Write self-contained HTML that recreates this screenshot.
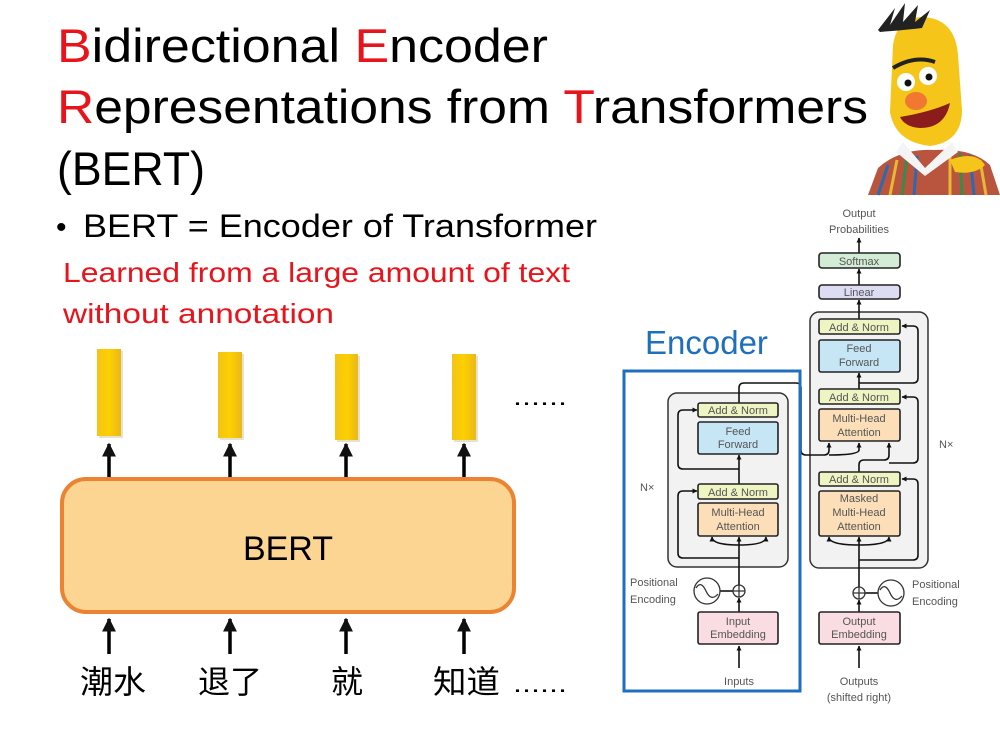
<!DOCTYPE html>
<html><head><meta charset="utf-8"><style>
html,body{margin:0;padding:0;background:#fff;}
svg{display:block;}
</style></head><body>
<svg width="1000" height="736" viewBox="0 0 1000 736" xmlns="http://www.w3.org/2000/svg">
<defs>
<marker id="a" viewBox="0 0 10 10" refX="9" refY="5" markerWidth="4" markerHeight="4" orient="auto"><path d="M0,0L10,5L0,10z" fill="#111"/></marker>
<marker id="b" viewBox="0 0 10 10" refX="9" refY="5" markerWidth="3.2" markerHeight="3.2" orient="auto"><path d="M0,0L10,5L0,10z" fill="#111"/></marker>
<linearGradient id="bar" x1="0" x2="1"><stop offset="0" stop-color="#f3c316"/><stop offset="0.5" stop-color="#fdd000"/><stop offset="1" stop-color="#e9b81a"/></linearGradient>
</defs>
<g font-family="Liberation Sans, sans-serif">
<text x="57" y="62" font-size="47" textLength="491" lengthAdjust="spacingAndGlyphs"><tspan fill="#e8141c">B</tspan>idirectional <tspan fill="#e8141c">E</tspan>ncoder</text>
<text x="57" y="123" font-size="47" textLength="811" lengthAdjust="spacingAndGlyphs"><tspan fill="#e8141c">R</tspan>epresentations from <tspan fill="#e8141c">T</tspan>ransformers</text>
<text x="57" y="185" font-size="47" textLength="148" lengthAdjust="spacingAndGlyphs">(BERT)</text>
<text x="56" y="237" font-size="30">•</text>
<text x="83" y="237" font-size="32" textLength="514" lengthAdjust="spacingAndGlyphs">BERT =  Encoder of Transformer</text>
<text x="63" y="282" font-size="28" fill="#e8141c" textLength="507" lengthAdjust="spacingAndGlyphs">Learned from a large amount of text</text>
<text x="63" y="323" font-size="28" fill="#e8141c" textLength="271" lengthAdjust="spacingAndGlyphs">without annotation</text>
</g>

<g fill="#e6e2d0">
<rect x="99" y="351" width="24" height="87"/><rect x="220" y="354" width="24" height="86"/>
<rect x="337" y="356" width="23" height="86"/><rect x="454" y="356" width="24" height="86"/>
</g>
<rect x="97" y="349" width="24" height="87" fill="url(#bar)"/>
<rect x="218" y="352" width="24" height="86" fill="url(#bar)"/>
<rect x="335" y="354" width="23" height="86" fill="url(#bar)"/>
<rect x="452" y="354" width="24" height="86" fill="url(#bar)"/>
<text x="513" y="405" font-family="Liberation Sans,sans-serif" font-size="24" textLength="54" lengthAdjust="spacingAndGlyphs">......</text>
<g stroke="#000" stroke-width="3.5" marker-end="url(#a)">
<line x1="109" y1="479" x2="109" y2="444"/>
<line x1="230" y1="479" x2="230" y2="444"/>
<line x1="346" y1="479" x2="346" y2="444"/>
<line x1="464" y1="479" x2="464" y2="444"/>
<line x1="109" y1="654" x2="109" y2="619"/>
<line x1="230" y1="654" x2="230" y2="619"/>
<line x1="346" y1="654" x2="346" y2="619"/>
<line x1="464" y1="654" x2="464" y2="619"/>
</g>
<rect x="62" y="479" width="452" height="133" rx="24" fill="#fdd592" stroke="#ec8332" stroke-width="4"/>
<text x="288" y="560" font-family="Liberation Sans,sans-serif" font-size="34" text-anchor="middle">BERT</text>
<g font-family="Liberation Sans,'Noto Sans CJK SC',sans-serif" font-size="32">
<text x="80" y="693" textLength="66" lengthAdjust="spacingAndGlyphs">潮水</text>
<text x="198" y="693" textLength="64" lengthAdjust="spacingAndGlyphs">退了</text>
<text x="331" y="693">就</text>
<text x="433" y="693" textLength="67" lengthAdjust="spacingAndGlyphs">知道</text>
</g>
<text x="513" y="692" font-family="Liberation Sans,sans-serif" font-size="24" textLength="54" lengthAdjust="spacingAndGlyphs">......</text>

<text x="645" y="354" font-family="Liberation Sans,sans-serif" font-size="33" fill="#1f6fbf">Encoder</text>

<g font-family="Liberation Sans,sans-serif" font-size="11" fill="#555">
<rect x="668" y="393" width="120" height="174" rx="9" fill="#f2f2f2" stroke="#333" stroke-width="1.5"/>
<rect x="810" y="312" width="118" height="256" rx="9" fill="#f2f2f2" stroke="#333" stroke-width="1.5"/>

<g stroke="#111" stroke-width="1.6" fill="none">
<line x1="739" y1="668" x2="739" y2="646" marker-end="url(#b)"/>
<line x1="739" y1="612" x2="739" y2="598" marker-end="url(#b)"/>
<line x1="739" y1="585" x2="739" y2="537" marker-end="url(#b)"/>
<path d="M739,545 Q712,545 712,537" marker-end="url(#b)"/>
<path d="M739,545 Q766,545 766,537" marker-end="url(#b)"/>
<path d="M739,558 L683,558 Q678,558 678,553 L678,496 Q678,491 683,491 L697,491" marker-end="url(#b)"/>
<line x1="739" y1="484" x2="739" y2="455" marker-end="url(#b)"/>
<path d="M739,469 L683,469 Q678,469 678,464 L678,415 Q678,410 683,410 L697,410" marker-end="url(#b)"/>
<path d="M739,403 L739,388 Q739,383 744,383 L796,383 Q801,383 801,388 L801,450 Q801,455 806,455 L824,455 Q829,455 829,450 L829,443" marker-end="url(#b)"/>
<path d="M829,455 Q859,455 859,450 L859,443" marker-end="url(#b)"/>
<line x1="720" y1="591" x2="733" y2="591"/>
<line x1="859" y1="668" x2="859" y2="646" marker-end="url(#b)"/>
<line x1="859" y1="612" x2="859" y2="600" marker-end="url(#b)"/>
<line x1="859" y1="587" x2="859" y2="537" marker-end="url(#b)"/>
<path d="M859,545 Q829,545 829,537" marker-end="url(#b)"/>
<path d="M859,545 Q889,545 889,537" marker-end="url(#b)"/>
<path d="M859,560 L913,560 Q918,560 918,555 L918,484 Q918,479 913,479 L902,479" marker-end="url(#b)"/>
<path d="M859,472 L859,465 Q859,460 864,460 L884,460 Q889,460 889,455 L889,443" marker-end="url(#b)"/>
<path d="M889,463 L913,463 Q918,463 918,458 L918,402 Q918,397 913,397 L902,397" marker-end="url(#b)"/>
<line x1="859" y1="389" x2="859" y2="373" marker-end="url(#b)"/>
<path d="M859,383 L913,383 Q918,383 918,378 L918,331 Q918,326 913,326 L902,326" marker-end="url(#b)"/>
<line x1="859" y1="319" x2="859" y2="300" marker-end="url(#b)"/>
<line x1="859" y1="285" x2="859" y2="269" marker-end="url(#b)"/>
<line x1="859" y1="253" x2="859" y2="238" marker-end="url(#b)"/>
<line x1="865" y1="593" x2="878" y2="593"/>
</g>

<g stroke="#222" stroke-width="1.6">
<rect x="698" y="403" width="80" height="14" rx="2" fill="#eef4c2"/>
<rect x="698" y="422" width="80" height="32" rx="2" fill="#c6e6f5"/>
<rect x="698" y="484" width="80" height="15" rx="2" fill="#eef4c2"/>
<rect x="698" y="503" width="80" height="33" rx="2" fill="#fcdfb8"/>
<rect x="698" y="612" width="80" height="32" rx="2" fill="#f9dde2"/>
<rect x="819" y="319" width="81" height="15" rx="2" fill="#eef4c2"/>
<rect x="819" y="340" width="81" height="32" rx="2" fill="#c6e6f5"/>
<rect x="819" y="389" width="81" height="15" rx="2" fill="#eef4c2"/>
<rect x="819" y="409" width="81" height="32" rx="2" fill="#fcdfb8"/>
<rect x="819" y="472" width="81" height="14" rx="2" fill="#eef4c2"/>
<rect x="819" y="491" width="81" height="45" rx="2" fill="#fcdfb8"/>
<rect x="819" y="612" width="81" height="32" rx="2" fill="#f9dde2"/>
<rect x="819" y="285" width="81" height="14" rx="3" fill="#dcdcf2"/>
<rect x="819" y="253" width="81" height="15" rx="3" fill="#d3ecd6"/>
</g>
<g fill="none" stroke="#333" stroke-width="1.3">
<circle cx="739" cy="591" r="6"/><path d="M733,591h12M739,585v12"/>
<circle cx="707" cy="591" r="13"/><path d="M696,588 Q701,580 706,591 Q711,602 718,594"/>
<circle cx="859" cy="593" r="6"/><path d="M853,593h12M859,587v12"/>
<circle cx="891" cy="593" r="13"/><path d="M880,590 Q885,582 890,593 Q895,604 902,596"/>
</g>
<g text-anchor="middle">
<text x="738" y="414">Add &amp; Norm</text>
<text x="738" y="435">Feed</text><text x="738" y="448">Forward</text>
<text x="738" y="496">Add &amp; Norm</text>
<text x="738" y="516">Multi-Head</text><text x="738" y="530">Attention</text>
<text x="738" y="625">Input</text><text x="738" y="638">Embedding</text>
<text x="739" y="685">Inputs</text>
<text x="859" y="331">Add &amp; Norm</text>
<text x="859" y="352">Feed</text><text x="859" y="366">Forward</text>
<text x="859" y="401">Add &amp; Norm</text>
<text x="859" y="422">Multi-Head</text><text x="859" y="436">Attention</text>
<text x="859" y="483">Add &amp; Norm</text>
<text x="859" y="502">Masked</text><text x="859" y="516">Multi-Head</text><text x="859" y="530">Attention</text>
<text x="859" y="625">Output</text><text x="859" y="638">Embedding</text>
<text x="859" y="296">Linear</text>
<text x="859" y="265">Softmax</text>
<text x="859" y="217">Output</text><text x="859" y="233">Probabilities</text>
<text x="859" y="685">Outputs</text><text x="859" y="701">(shifted right)</text>
</g>
<text x="630" y="586">Positional</text><text x="630" y="603">Encoding</text>
<text x="912" y="588">Positional</text><text x="912" y="605">Encoding</text>
<text x="640" y="491">N×</text>
<text x="939" y="448">N×</text>
</g>
<rect x="624" y="371" width="176" height="320" fill="none" stroke="#1f6fbf" stroke-width="3"/>

<!-- Bert puppet -->
<g>
<path d="M868,195 L878,168 Q900,148 935,150 Q972,148 990,165 L1000,195 Z" fill="#b9553f"/>
<g stroke-width="3">
<line x1="878" y1="195" x2="888" y2="165" stroke="#2a6ab0"/>
<line x1="890" y1="195" x2="897" y2="160" stroke="#e8b830"/>
<line x1="902" y1="195" x2="907" y2="156" stroke="#3a8a4a"/>
<line x1="914" y1="195" x2="917" y2="156" stroke="#2a6ab0"/>
<line x1="950" y1="195" x2="950" y2="155" stroke="#e8b830"/>
<line x1="962" y1="195" x2="960" y2="153" stroke="#3a8a4a"/>
<line x1="974" y1="195" x2="970" y2="155" stroke="#2a6ab0"/>
<line x1="986" y1="195" x2="980" y2="160" stroke="#e8b830"/>
</g>
<path d="M903,142 L925,168 L952,142 L958,152 L925,176 L896,152 Z" fill="#f4f4f4"/>
<path d="M893,45 Q897,18 922,17 Q955,18 958,55 L962,110 Q962,142 930,146 Q895,142 890,112 Z" fill="#f6c51a"/>
<path d="M878,30 L895,8 L890,25 L905,3 L903,22 L918,5 L915,22 L930,10 L922,28 Q905,30 880,32 Z" fill="#222"/>
<circle cx="906" cy="82" r="9" fill="#fff"/><circle cx="928" cy="76" r="9" fill="#fff"/>
<circle cx="908" cy="83" r="3.5" fill="#111"/><circle cx="929" cy="77" r="3.5" fill="#111"/>
<path d="M893,68 Q915,55 935,62" stroke="#222" stroke-width="4" fill="none"/>
<ellipse cx="916" cy="101" rx="11" ry="9" fill="#f07830"/>
<path d="M900,117 Q930,112 950,103 Q945,128 920,128 Q905,127 900,117 Z" fill="#8a1c1c"/>
<path d="M950,160 Q975,150 985,165 Q975,175 955,172 Z" fill="#f6c51a"/>
</g>
</svg>
</body></html>
